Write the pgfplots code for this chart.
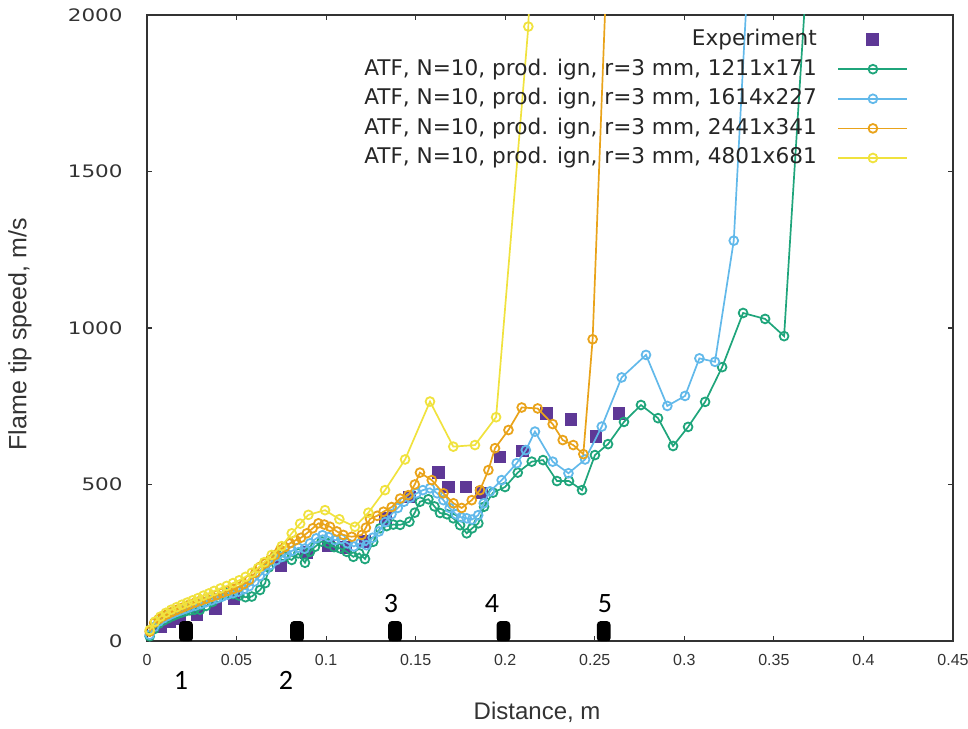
\documentclass[border=0pt]{standalone}
\usepackage{fontspec}
\setmainfont{DejaVu Sans}
\newfontfamily\libsans{Liberation Sans}
\newfontfamily\carlito{Carlito}
\usepackage{graphicx}
\usepackage{pgfplots}
\pgfplotsset{compat=1.18}
\definecolor{cexp}{HTML}{5E3896}
\definecolor{cgreen}{HTML}{1FA57B}
\definecolor{cblue}{HTML}{62B9EA}
\definecolor{corange}{HTML}{E9A31A}
\definecolor{cyellow}{HTML}{F0E23E}
\definecolor{caxis}{HTML}{333333}
\begin{document}
\begin{tikzpicture}
\begin{axis}[
  at={(0,0)}, anchor=south west,
  scale only axis, width=403pt, height=313pt,
  xmin=0, xmax=0.45, ymin=0, ymax=2000,
  xtick={0,0.05,0.1,0.15,0.2,0.25,0.3,0.35,0.4,0.45},
  ytick={0,500,1000,1500,2000},
  tick align=inside, major tick length=2.5pt,
  axis line style={draw=caxis, line width=0.75pt},
  tick style={caxis, line width=0.6pt},
  clip mode=individual,
  /pgf/number format/assume math mode=true,
  /pgf/number format/1000 sep={},
  xticklabel style={font=\libsans\fontsize{8}{10}\selectfont, text=caxis, inner sep=0pt, anchor=center, yshift=-9.5pt,
    /pgf/number format/fixed, /pgf/number format/precision=2},
  yticklabel style={font=\fontsize{8.6}{10}\selectfont, text=caxis, inner sep=0pt, anchor=east, xshift=-12pt},
  yticklabel={\scalebox{1.25}[1]{\pgfmathprintnumber{\tick}}},
  xlabel={Distance, m},
  ylabel={Flame tip speed, m/s},
  xlabel style={font=\libsans\fontsize{12}{14}\selectfont, text=caxis, at={(axis description cs:0.484,0)}, anchor=center, yshift=-35.5pt},
  ylabel style={font=\libsans\fontsize{12.5}{14}\selectfont, text=caxis, at={(axis description cs:-0.1576,0.49)}, anchor=center},
  legend plot pos=right,
  legend style={at={(axis description cs:0.945,0.985)}, anchor=north east, draw=none, fill=none,
    font=\fontsize{10.8}{12}\selectfont, text=black!85, inner sep=0pt, row sep=0pt, column sep=9pt,
    nodes={inner sep=1.4pt, text height=9pt, text depth=3pt}, cells={anchor=east}},
  legend image code/.code={\draw[mark repeat=2,mark phase=2,#1] plot coordinates {(0pt,0pt) (17.25pt,0pt) (34.5pt,0pt)};},
  every axis plot/.append style={line width=0.85pt},
]
% Experiment
\addplot[only marks, mark=square*, mark size=2.8pt, color=cexp] coordinates {
(0.0073,45) (0.0128,61) (0.0184,73) (0.0279,86) (0.0380,105) (0.0486,137)
(0.0748,240) (0.0893,284) (0.1011,304) (0.1111,300) (0.1217,319) (0.1334,390)
(0.1468,460) (0.1625,537) (0.1681,492) (0.1781,492) (0.1870,473) (0.1971,588)
(0.2094,607) (0.2228,728) (0.2367,709) (0.2507,652) (0.2635,728)
};
\addlegendentry{Experiment}
% 1211x171
\addplot[color=cgreen, mark=o, mark size=2.2pt, mark options={solid, line width=0.9pt}] coordinates {
(0.0015,15) (0.004,38) (0.0065,55) (0.009,65) (0.0115,72) (0.014,79) (0.0165,85)
(0.019,90) (0.0215,95) (0.024,98) (0.0265,100) (0.0296,100) (0.033,112) (0.0365,125)
(0.040,138) (0.0445,152) (0.048,150) (0.0515,145) (0.055,140) (0.0585,142) (0.0631,163)
(0.066,185) (0.068,235) (0.0725,275) (0.0765,270) (0.0808,259) (0.0845,280) (0.0882,250)
(0.091,285) (0.0938,301) (0.0975,318) (0.1012,312) (0.1045,300) (0.1078,296) (0.1115,285)
(0.1152,269) (0.1185,280) (0.1217,262) (0.1263,317) (0.1301,360) (0.1338,367) (0.1375,372)
(0.1413,371) (0.1465,381) (0.1495,410) (0.1524,445) (0.1571,453) (0.1605,430) (0.1636,409)
(0.1675,405) (0.1710,392) (0.1748,370) (0.1785,344) (0.1815,360) (0.1850,376) (0.1882,429)
(0.1932,474) (0.1999,492) (0.2070,538) (0.2148,573) (0.2211,578) (0.2289,511) (0.2356,511)
(0.2429,482) (0.2501,594) (0.2574,629) (0.2663,700) (0.2758,754) (0.2853,712) (0.2937,623)
(0.3021,684) (0.3116,764) (0.3211,875) (0.3328,1048) (0.3451,1029) (0.3557,974) (0.368,2100)
};
\addlegendentry{ATF, N=10, prod. ign, r=3 mm, 1211x171}
% 1614x227
\addplot[color=cblue, mark=o, mark size=2.2pt, mark options={solid, line width=0.9pt}] coordinates {
(0.0015,20) (0.004,45) (0.0065,62) (0.009,72) (0.0115,80) (0.014,87) (0.0165,93)
(0.019,98) (0.0215,103) (0.024,108) (0.027,113) (0.030,118) (0.033,124) (0.036,130)
(0.039,136) (0.042,142) (0.045,148) (0.048,153) (0.051,158) (0.054,165) (0.057,175)
(0.060,190) (0.063,208) (0.066,225) (0.069,243) (0.072,258) (0.075,268) (0.078,278)
(0.081,288) (0.0845,298) (0.088,295) (0.091,312) (0.0945,328) (0.098,338) (0.1015,332)
(0.105,322) (0.1085,326) (0.112,312) (0.1155,302) (0.119,312) (0.1225,306) (0.126,330)
(0.1295,350) (0.133,380) (0.1365,405) (0.140,425) (0.1435,445) (0.147,458) (0.1505,472)
(0.154,482) (0.158,488) (0.162,472) (0.1655,450) (0.169,425) (0.1725,405) (0.1755,395)
(0.1785,392) (0.1815,388) (0.1849,402) (0.188,440) (0.1915,478) (0.198,514) (0.2064,568)
(0.2115,610) (0.2166,669) (0.2265,573) (0.2353,536) (0.2446,580) (0.2539,685) (0.2650,842)
(0.2786,914) (0.2905,751) (0.3004,783) (0.3084,903) (0.3171,892) (0.3276,1279) (0.338,2400)
};
\addlegendentry{ATF, N=10, prod. ign, r=3 mm, 1614x227}
% 2441x341
\addplot[color=corange, mark=o, mark size=2.2pt, mark options={solid, line width=0.9pt}] coordinates {
(0.0015,30) (0.004,58) (0.0065,70) (0.009,79) (0.0115,86) (0.014,93) (0.0165,99)
(0.019,105) (0.0215,111) (0.024,117) (0.027,123) (0.030,129) (0.033,135) (0.036,141)
(0.039,147) (0.042,154) (0.045,160) (0.048,166) (0.051,172) (0.054,182) (0.057,195)
(0.0605,218) (0.0631,237) (0.066,248) (0.0687,259) (0.0715,275) (0.0743,291) (0.077,300)
(0.0798,312) (0.083,322) (0.086,330) (0.0892,344) (0.0925,360) (0.0957,376) (0.099,372)
(0.1022,365) (0.106,350) (0.1096,339) (0.1143,333) (0.1199,339) (0.1222,362) (0.1245,390)
(0.1285,400) (0.132,413) (0.1366,428) (0.1413,455) (0.1459,466) (0.1495,500) (0.1524,538)
(0.159,514) (0.1655,472) (0.1711,440) (0.1757,425) (0.1813,450) (0.1859,482) (0.1906,546)
(0.1943,616) (0.2018,674) (0.2092,746) (0.2181,743) (0.2265,693) (0.2321,642) (0.2380,626)
(0.2436,597) (0.2488,964) (0.258,2350)
};
\addlegendentry{ATF, N=10, prod. ign, r=3 mm, 2441x341}
% 4801x681
\addplot[color=cyellow, mark=o, mark size=2.2pt, mark options={solid, line width=0.9pt}] coordinates {
(0.0015,35) (0.0045,62) (0.0075,78) (0.0105,90) (0.0135,100) (0.0165,108) (0.0195,116)
(0.0225,123) (0.0255,130) (0.0285,137) (0.0315,145) (0.0345,152) (0.0375,160) (0.041,168)
(0.0445,176) (0.048,185) (0.0515,194) (0.055,205) (0.0585,218) (0.062,233) (0.0655,252)
(0.0696,275) (0.0752,303) (0.0808,344) (0.0855,375) (0.0901,403) (0.0994,418) (0.1074,389)
(0.1161,365) (0.1236,410) (0.1329,482) (0.1441,580) (0.158,765) (0.171,621) (0.1831,626)
(0.1949,715) (0.2129,1963) (0.216,2500)
};
\addlegendentry{ATF, N=10, prod. ign, r=3 mm, 4801x681}
% sensor positions
\addplot[ybar, bar width=6pt, bar shift=0pt, fill=black, draw=black, rounded corners=1.5pt, forget plot] coordinates {
(0.0218,61) (0.0838,61) (0.1385,61) (0.199,61) (0.255,61)
};
\node[font=\carlito\fontsize{14}{15}\selectfont] at (axis cs:0.019,-125) {1};
\node[font=\carlito\fontsize{14}{15}\selectfont] at (axis cs:0.0776,-125) {2};
\node[font=\carlito\fontsize{14}{15}\selectfont] at (axis cs:0.1362,120) {3};
\node[font=\carlito\fontsize{14}{15}\selectfont] at (axis cs:0.1926,120) {4};
\node[font=\carlito\fontsize{14}{15}\selectfont] at (axis cs:0.2557,120) {5};
\end{axis}
\pgfresetboundingbox
\path (-73.5pt,-43.5pt) rectangle (410.5pt,320.5pt);
\end{tikzpicture}
\end{document}
